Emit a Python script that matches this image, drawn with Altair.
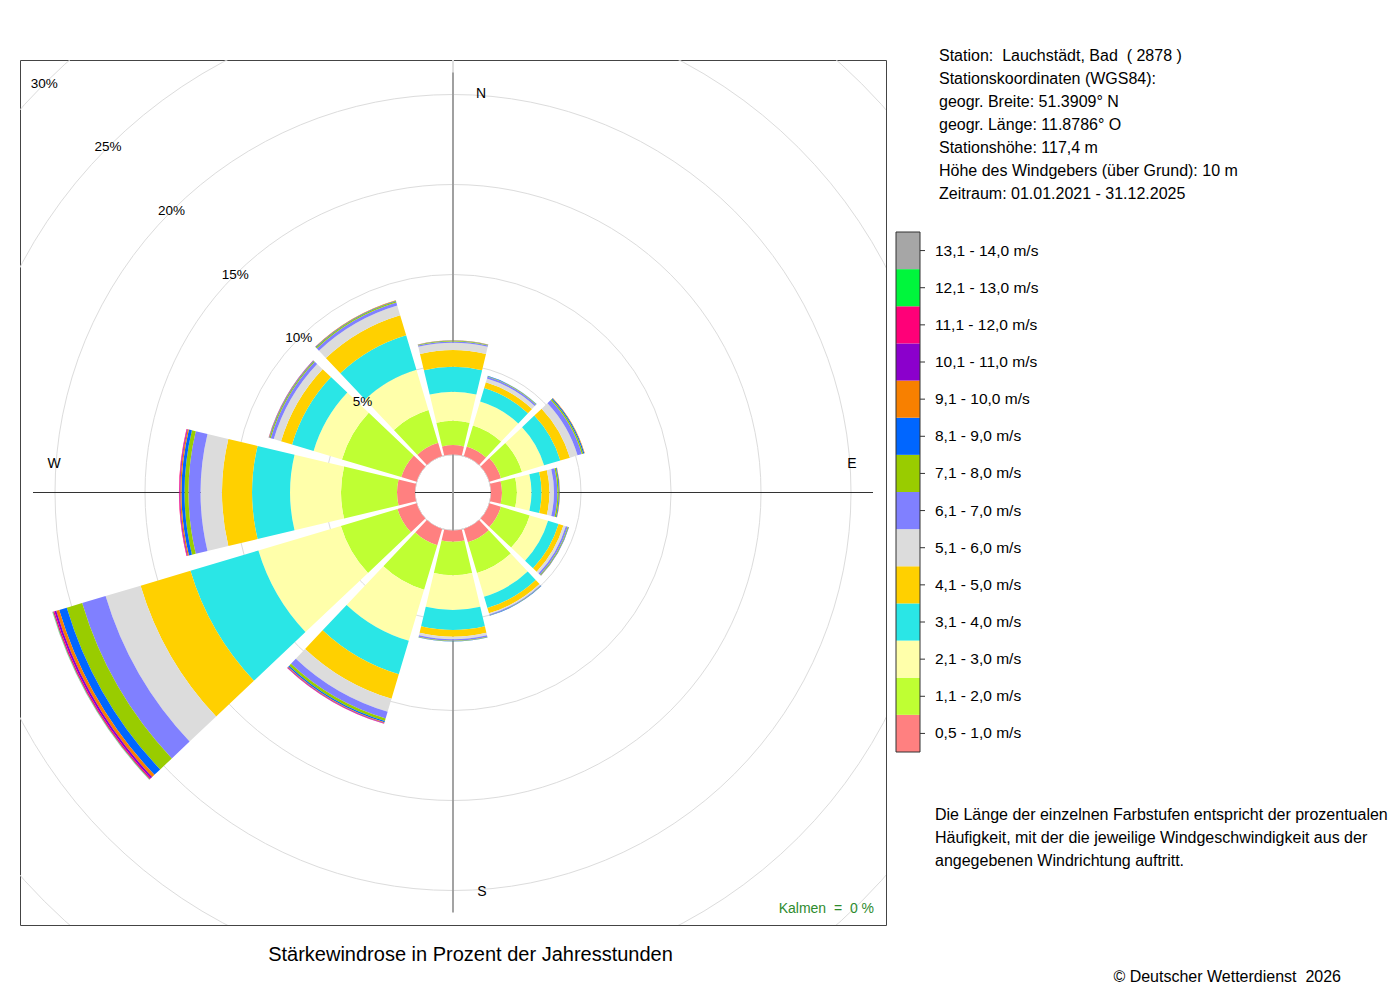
import altair as alt
import pandas as pd

# ---------------- data (percent of annual hours) ----------------
DIRECTIONS = [0, 30, 60, 90, 120, 150, 180, 210, 240, 270, 300, 330]
CLASSES = ["0,5 - 1,0 m/s", "1,1 - 2,0 m/s", "2,1 - 3,0 m/s", "3,1 - 4,0 m/s",
           "4,1 - 5,0 m/s", "5,1 - 6,0 m/s", "6,1 - 7,0 m/s", "7,1 - 8,0 m/s",
           "8,1 - 9,0 m/s", "9,1 - 10,0 m/s", "10,1 - 11,0 m/s", "11,1 - 12,0 m/s",
           "12,1 - 13,0 m/s", "13,1 - 14,0 m/s"]
COLORS = ["#FF8080", "#BFFF33", "#FFFFAA", "#2AE6E6", "#FFD000", "#DCDCDC",
          "#8080FF", "#99CC00", "#0066FF", "#F88000", "#8B00CC", "#FF0078",
          "#00F63C", "#A6A6A6"]

FREQ_N   = [0.52, 1.35, 1.61, 1.39, 0.93, 0.41, 0.07, 0.03, 0.02, 0.01, 0, 0, 0, 0]
FREQ_NNE = [0.56, 1.22, 1.39, 0.78, 0.33, 0.22, 0.10, 0.03, 0.02, 0, 0, 0, 0, 0]
FREQ_ENE = [0.67, 1.22, 1.28, 0.94, 0.56, 0.44, 0.25, 0.08, 0.06, 0.03, 0, 0, 0, 0]
FREQ_E   = [0.61, 0.83, 0.81, 0.56, 0.44, 0.25, 0.19, 0.08, 0.04, 0.02, 0, 0, 0, 0]
FREQ_ESE = [0.67, 1.67, 1.06, 0.61, 0.28, 0.14, 0.11, 0.04, 0.03, 0.01, 0, 0, 0, 0]
FREQ_SSE = [0.78, 1.78, 1.37, 0.65, 0.31, 0.07, 0.04, 0.02, 0.02, 0, 0, 0, 0, 0]
FREQ_S   = [0.63, 1.85, 1.94, 1.11, 0.37, 0.14, 0.08, 0.03, 0.02, 0, 0, 0, 0, 0]
FREQ_SSW = [0.94, 2.58, 2.97, 1.94, 1.42, 0.75, 0.39, 0.14, 0.08, 0.04, 0.03, 0.02, 0, 0]
FREQ_SW  = [1.11, 3.28, 4.78, 3.94, 2.89, 2.03, 1.36, 0.89, 0.44, 0.17, 0.11, 0.07, 0.03, 0.02]
FREQ_W   = [1.00, 3.11, 2.83, 2.11, 1.67, 1.19, 0.67, 0.22, 0.17, 0.07, 0.04, 0.03, 0, 0]
FREQ_WNW = [0.89, 3.44, 1.64, 1.25, 0.64, 0.42, 0.18, 0.06, 0.03, 0.02, 0.01, 0, 0, 0]
FREQ_NNW = [0.78, 1.89, 2.33, 2.00, 1.17, 0.56, 0.17, 0.07, 0.04, 0.02, 0.01, 0, 0, 0]
FREQS = [FREQ_N, FREQ_NNE, FREQ_ENE, FREQ_E, FREQ_ESE, FREQ_SSE, FREQ_S,
         FREQ_SSW, FREQ_SW, FREQ_W, FREQ_WNW, FREQ_NNW]

RINGS = [5, 10, 15, 20, 25, 30]
RING_LABELS = ["5%", "10%", "15%", "20%", "25%", "30%"]
COMPASS = ["N", "E", "S", "W"]

NB = "\u00a0"  # keeps the double spaces of the original texts
STATION_TEXT = ["Station:" + NB + " Lauchstädt, Bad" + NB + " ( 2878 )",
                "Stationskoordinaten (WGS84):",
                "geogr. Breite: 51.3909° N",
                "geogr. Länge: 11.8786° O",
                "Stationshöhe: 117,4 m",
                "Höhe des Windgebers (über Grund): 10 m",
                "Zeitraum: 01.01.2021 - 31.12.2025"]
NOTE_TEXT = ["Die Länge der einzelnen Farbstufen entspricht der prozentualen",
             "Häufigkeit, mit der die jeweilige Windgeschwindigkeit aus der",
             "angegebenen Windrichtung auftritt."]
TITLE = "Stärkewindrose in Prozent der Jahresstunden"
CALM_TEXT = "Kalmen" + NB + " =" + NB + " 0 %"
COPYRIGHT = "© Deutscher Wetterdienst" + NB + " 2026"

# ---------------- layout ----------------
FONT = "Liberation Sans"
W, H = 866, 865
CX, CY = W / 2, H / 2
HALF = 13.4          # half angular width of a sector (deg)
AX_R = 420           # half length of the cross axes (px)

rows = []
for d, freq in zip(DIRECTIONS, FREQS):
    cum = 0.0
    for k, (cls, v) in enumerate(zip(CLASSES, freq)):
        if v <= 0:
            continue
        rows.append(dict(dir=d, cls=cls, k=k, r0=cum, r1=cum + v,
                         t0=d - HALF, t1=d + HALF))
        cum += v
df = pd.DataFrame(rows)

ring_df = pd.DataFrame({"pct": RINGS, "label": RING_LABELS,
                        "t0": [0] * len(RINGS), "t1": [360] * len(RINGS),
                        "ang": [315] * len(RINGS)})
leg_df = pd.DataFrame({"cls": CLASSES})
one = pd.DataFrame({"a": [0]})

theta_scale = alt.Scale(type="linear", domain=[0, 360], range=[0, 6.283185307])
radius_scale = alt.Scale(type="linear", domain=[0, 30], range=[38, 578], zero=False)
color_scale = alt.Scale(domain=CLASSES, range=COLORS)
leg_y_scale = alt.Scale(domain=CLASSES[::-1], range=[172, 692],
                        paddingInner=0, paddingOuter=0)

grid = alt.Chart(ring_df).mark_arc(filled=False, stroke="#dcdcdc",
                                   strokeWidth=1, clip=True).encode(
    theta=alt.Theta("t0:Q", scale=theta_scale, stack=None),
    theta2="t1:Q",
    radius=alt.Radius("pct:Q", scale=radius_scale),
)

h_axis = alt.Chart(one).mark_rule(color="#333333", strokeWidth=1).encode(
    x=alt.value(CX - AX_R), x2=alt.value(CX + AX_R), y=alt.value(CY))
v_axis = alt.Chart(one).mark_rule(color="#999999", strokeWidth=1.8).encode(
    x=alt.value(CX), y=alt.value(CY - AX_R), y2=alt.value(CY + AX_R))

sectors = alt.Chart(df).mark_arc().encode(
    theta=alt.Theta("t0:Q", scale=theta_scale, stack=None),
    theta2="t1:Q",
    radius=alt.Radius("r1:Q", scale=radius_scale),
    radius2="r0:Q",
    color=alt.Color("cls:N", scale=color_scale, legend=None),
    order=alt.Order("k:Q"),
)

ring_labels = alt.Chart(ring_df).mark_text(font=FONT, fontSize=13.5, color="#000000",
                                           align="center", baseline="middle").encode(
    theta=alt.Theta("ang:Q", scale=theta_scale, stack=None),
    radius=alt.Radius("pct:Q", scale=radius_scale),
    text="label:N",
)

compass_pos = {"N": (28, -398.5), "E": (399, -28.5), "S": (29, 399.5), "W": (-399, -28.5)}
compass_layers = []
for c in COMPASS:
    dx, dy = compass_pos[c]
    compass_layers.append(
        alt.Chart(one).mark_text(text=c, font=FONT, fontSize=14, color="#000000",
                                 align="center", baseline="middle").encode(
            x=alt.value(CX + dx), y=alt.value(CY + dy)))

calm = alt.Chart(one).mark_text(text=CALM_TEXT, font=FONT, fontSize=14, color="#2E8B2E",
                                align="right", baseline="alphabetic").encode(
    x=alt.value(854), y=alt.value(853))

legend_rects = alt.Chart(leg_df).mark_rect().encode(
    x=alt.value(876), x2=alt.value(900),
    y=alt.Y("cls:N", scale=leg_y_scale, axis=None),
    color=alt.Color("cls:N", scale=color_scale, legend=None),
)
legend_border = alt.Chart(one).mark_rect(fillOpacity=0, stroke="#333333", strokeWidth=1).encode(
    x=alt.value(876), x2=alt.value(900), y=alt.value(172), y2=alt.value(692))
legend_ticks = alt.Chart(leg_df).mark_rule(color="#333333", strokeWidth=1).encode(
    x=alt.value(900), x2=alt.value(905),
    y=alt.Y("cls:N", scale=leg_y_scale, axis=None, bandPosition=0.5),
)
legend_labels = alt.Chart(leg_df).mark_text(font=FONT, fontSize=15.5, color="#000000",
                                            align="left", baseline="middle").encode(
    x=alt.value(915),
    y=alt.Y("cls:N", scale=leg_y_scale, axis=None, bandPosition=0.5),
    text="cls:N",
)

station = alt.Chart(one).mark_text(text=STATION_TEXT, font=FONT, fontSize=16, lineHeight=23,
                                   color="#000000", align="left", baseline="alphabetic").encode(
    x=alt.value(919), y=alt.value(0.5))
note = alt.Chart(one).mark_text(text=NOTE_TEXT, font=FONT, fontSize=16, lineHeight=23,
                                color="#000000", align="left", baseline="alphabetic").encode(
    x=alt.value(915), y=alt.value(760))
title = alt.Chart(one).mark_text(text=TITLE, font=FONT, fontSize=20, color="#000000",
                                 align="center", baseline="alphabetic").encode(
    x=alt.value(450.5), y=alt.value(901))
copyright_ = alt.Chart(one).mark_text(text=COPYRIGHT, font=FONT, fontSize=16, color="#000000",
                                      align="right", baseline="alphabetic").encode(
    x=alt.value(1321), y=alt.value(921.5))

chart = alt.layer(
    grid, h_axis, v_axis, sectors, ring_labels, *compass_layers, calm,
    legend_rects, legend_border, legend_ticks, legend_labels,
    station, note, title, copyright_,
).properties(
    width=W, height=H,
    autosize=alt.AutoSizeParams(type="none"),
    padding={"left": 12, "top": 52, "right": 506, "bottom": 66},
).configure_view(stroke="#444444", strokeWidth=1, fill="white")

chart.save("out.html", embed_options={"renderer": "svg", "actions": False})
